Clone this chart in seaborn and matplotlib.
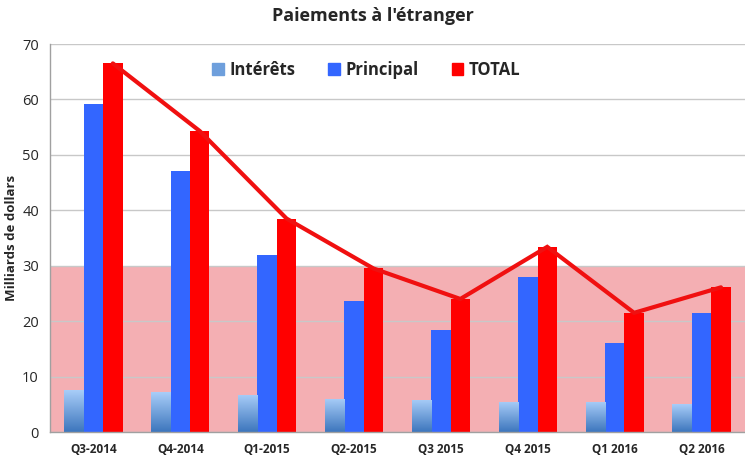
import numpy as np
import pandas as pd
import seaborn as sns
import matplotlib.pyplot as plt
from matplotlib.patches import Patch

# Données (milliards de dollars)
quarters = ["Q3-2014", "Q4-2014", "Q1-2015", "Q2-2015",
            "Q3 2015", "Q4 2015", "Q1 2016", "Q2 2016"]
interets = [7.5, 7.2, 6.7, 6.0, 5.8, 5.5, 5.5, 5.0]
principal = [59.2, 47.1, 31.9, 23.6, 18.4, 28.0, 16.0, 21.4]
total = [66.5, 54.3, 38.5, 29.5, 24.0, 33.4, 21.5, 26.1]
series = ["Intérêts", "Principal", "TOTAL"]

df = pd.DataFrame({
    "trimestre": quarters * 3,
    "serie": [s for s in series for _ in quarters],
    "valeur": interets + principal + total,
})

sns.set_style("white")
plt.rcParams["font.family"] = ["Open Sans", "DejaVu Sans"]

couleurs = {"Intérêts": "#6E9FDC", "Principal": "#3366FF", "TOTAL": "#FF0000"}

fig = plt.figure(figsize=(7.45, 4.57), dpi=100)
ax = fig.add_axes([50 / 745, 25 / 457, 695 / 745, 388 / 457])

# zone rose 0-30
ax.axhspan(0, 30, color="#F4AFB3", zorder=0, lw=0)

sns.barplot(data=df, x="trimestre", y="valeur", hue="serie", palette=couleurs,
            width=0.67, saturation=1, linewidth=0, ax=ax, legend=False, zorder=2)

# dégradé sur les barres des intérêts
grad = np.linspace(0, 1, 100).reshape(-1, 1)
cmap = sns.blend_palette(["#3D76BD", "#A8CDF8"], as_cmap=True)
for p in ax.containers[0]:
    x0, y0 = p.get_x(), p.get_y()
    w, h = p.get_width(), p.get_height()
    p.set_alpha(0)
    im = ax.imshow(grad, cmap=cmap, origin="lower", aspect="auto",
                   extent=[x0, x0 + w, y0, y0 + h], zorder=2.1)
    im.set_clip_path(p)

# ligne TOTAL sur le haut des barres rouges
xs = [p.get_x() + p.get_width() / 2 for p in ax.containers[2]]
ys = [p.get_height() for p in ax.containers[2]]
ax.plot(xs, ys, color="#F01010", lw=3, zorder=3, solid_joinstyle="miter")

ax.set_xlim(-0.5, len(quarters) - 0.5)
ax.set_ylim(0, 70)
ax.set_yticks(range(0, 71, 10))
ax.grid(axis="y", color="#C8C8C8", lw=1)
ax.set_axisbelow(True)
for g in ax.get_ygridlines():
    g.set_zorder(1)

ax.set_xticks(np.arange(len(quarters)))
ax.set_xticklabels(quarters, fontsize=8.5, fontweight="bold")
ax.set_xticks(np.arange(-0.5, len(quarters), 1), minor=True)
ax.tick_params(axis="x", which="major", length=0, pad=8)
ax.tick_params(axis="x", which="minor", length=4, color="#A0A0A0", direction="out")
ax.tick_params(axis="y", length=4, color="#A0A0A0", direction="out", labelsize=10.5, pad=4)
ax.set_xlabel("")
ax.set_ylabel("Milliards de dollars", fontsize=9.5, fontweight="bold", labelpad=3)

for s in ["top", "right"]:
    ax.spines[s].set_visible(False)
for s in ["left", "bottom"]:
    ax.spines[s].set_color("#A0A0A0")
    ax.spines[s].set_linewidth(1)

fig.suptitle("Paiements à l'étranger", fontsize=13, fontweight="bold", x=0.5, y=0.985)

handles = [Patch(color=couleurs[s]) for s in series]
ax.legend(handles, series, ncol=3, frameon=False, loc="center",
          bbox_to_anchor=(0.455, 0.933), handlelength=0.7, handleheight=0.7,
          handletextpad=0.3, columnspacing=2.0,
          prop={"weight": "bold", "size": 12})

fig.savefig("out.png", dpi=100)
